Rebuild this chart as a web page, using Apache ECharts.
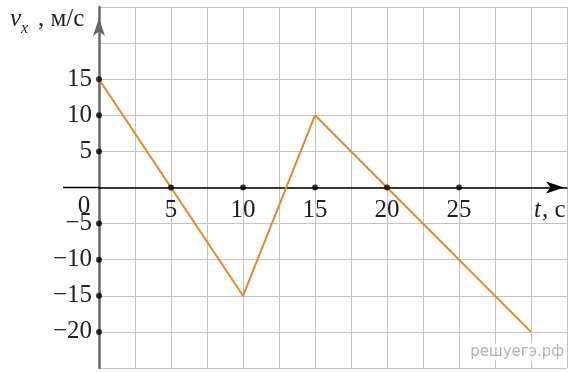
<!DOCTYPE html>
<html>
<head>
<meta charset="utf-8">
<script src="https://cdn.jsdelivr.net/npm/echarts@6/dist/echarts.min.js"></script>
</head>
<body style="margin: 0; background: #fff">
<div id="container" style="width: 576px; height: 372px"></div>
<script>
// график v_x(t)
var tValues = [0, 5, 10, 15, 20, 30];
var vValues = [15, 0, -15, 10, 0, -20];
// подписи на осях
var xTickLabels = [5, 10, 15, 20, 25];
var yTickLabels = [15, 10, 5, -5, -10, -15, -20];

var serif = 'Liberation Serif';
var chart = echarts.init(document.getElementById('container'));

var lineData = tValues.map(function (t, i) { return [t, vValues[i]]; });
var xDots = xTickLabels.map(function (t) { return [t, 0]; });
var yDots = yTickLabels.map(function (v) { return [0, v]; });

var gridTop = 7, gridBottom = 4, yMin = -25, yMax = 25;
var gridH = 372 - gridTop - gridBottom;
// ось t проходит через v = 0
var zeroOffset = -gridH * (0 - yMin) / (yMax - yMin);

var option = {
  backgroundColor: '#fff',
  animation: false,
  grid: { left: 99, right: 9, top: gridTop, bottom: gridBottom, outerBoundsMode: 'none', containLabel: false },
  xAxis: {
    type: 'value',
    position: 'bottom',
    offset: zeroOffset,
    min: 0, max: 32.5, interval: 2.5,
    axisLine: {
      onZero: false,
      lineStyle: { color: '#000', width: 1.5 },
      symbol: ['none', 'arrow'],
      symbolSize: [9, 18],
      symbolOffset: [0, -3]
    },
    axisTick: { show: false },
    axisLabel: {
      margin: 10,
      fontFamily: serif, fontSize: 25, color: '#222',
      formatter: function (v) { return xTickLabels.indexOf(v) >= 0 ? String(v) : ''; }
    },
    splitLine: { lineStyle: { color: '#c4c4c4', width: 1 } }
  },
  yAxis: {
    type: 'value',
    min: yMin, max: yMax, interval: 5,
    axisLine: {
      onZero: false,
      lineStyle: { color: '#666', width: 2.5 },
      symbol: ['none', 'arrow'],
      symbolSize: [9, 18],
      symbolOffset: [0, -11]
    },
    axisTick: { show: false },
    axisLabel: {
      margin: 7,
      padding: [3, 0, 0, 0],
      fontFamily: serif, fontSize: 25, color: '#222',
      formatter: function (v) {
        return yTickLabels.indexOf(v) >= 0 ? String(v).replace('-', '\u2212') : '';
      }
    },
    splitLine: { lineStyle: { color: '#c4c4c4', width: 1 } }
  },
  series: [
    {
      type: 'line',
      data: lineData,
      symbol: 'none',
      lineStyle: { color: '#e08a30', width: 2 },
      z: 3
    },
    {
      type: 'scatter',
      data: xDots.concat(yDots),
      symbolSize: 6,
      itemStyle: { color: '#000' },
      clip: false,
      z: 4
    }
  ]
};
chart.setOption(option);

// продолжение оси t влево, «0» и подписи осей
var o = chart.convertToPixel({ gridIndex: 0 }, [0, 0]);
chart.setOption({
  graphic: [
    { type: 'line', shape: { x1: 63, y1: o[1], x2: o[0], y2: o[1] },
      style: { stroke: '#000', lineWidth: 1.5 }, z: 5 },
    { type: 'text', x: 84, y: o[1] + 19,
      style: { text: '0', font: '25px ' + serif, fill: '#222', textAlign: 'center', textVerticalAlign: 'middle' } },
    { type: 'text', x: 534, y: o[1] + 23,
      style: { text: 't', font: 'italic 25px ' + serif, fill: '#222', textAlign: 'left', textVerticalAlign: 'middle' } },
    { type: 'text', x: 542, y: o[1] + 23,
      style: { text: ', с', font: '25px ' + serif, fill: '#222', textAlign: 'left', textVerticalAlign: 'middle' } },
    { type: 'text', x: 10, y: 19,
      style: { text: 'v', font: 'italic 25px ' + serif, fill: '#222', textAlign: 'left', textVerticalAlign: 'middle' } },
    { type: 'text', x: 21, y: 29,
      style: { text: 'x', font: 'italic 16px ' + serif, fill: '#222', textAlign: 'left', textVerticalAlign: 'middle' } },
    { type: 'text', x: 38, y: 19,
      style: { text: ', м/с', font: '25px ' + serif, fill: '#222', textAlign: 'left', textVerticalAlign: 'middle' } },
    { type: 'text', x: 566, y: 352,
      style: { text: 'решуегэ.рф', font: '15px "DejaVu Sans"', fill: '#b4b4b4', textAlign: 'right', textVerticalAlign: 'middle',
        backgroundColor: '#fff', padding: [1, 2] } }
  ]
});
</script>
</body>
</html>
